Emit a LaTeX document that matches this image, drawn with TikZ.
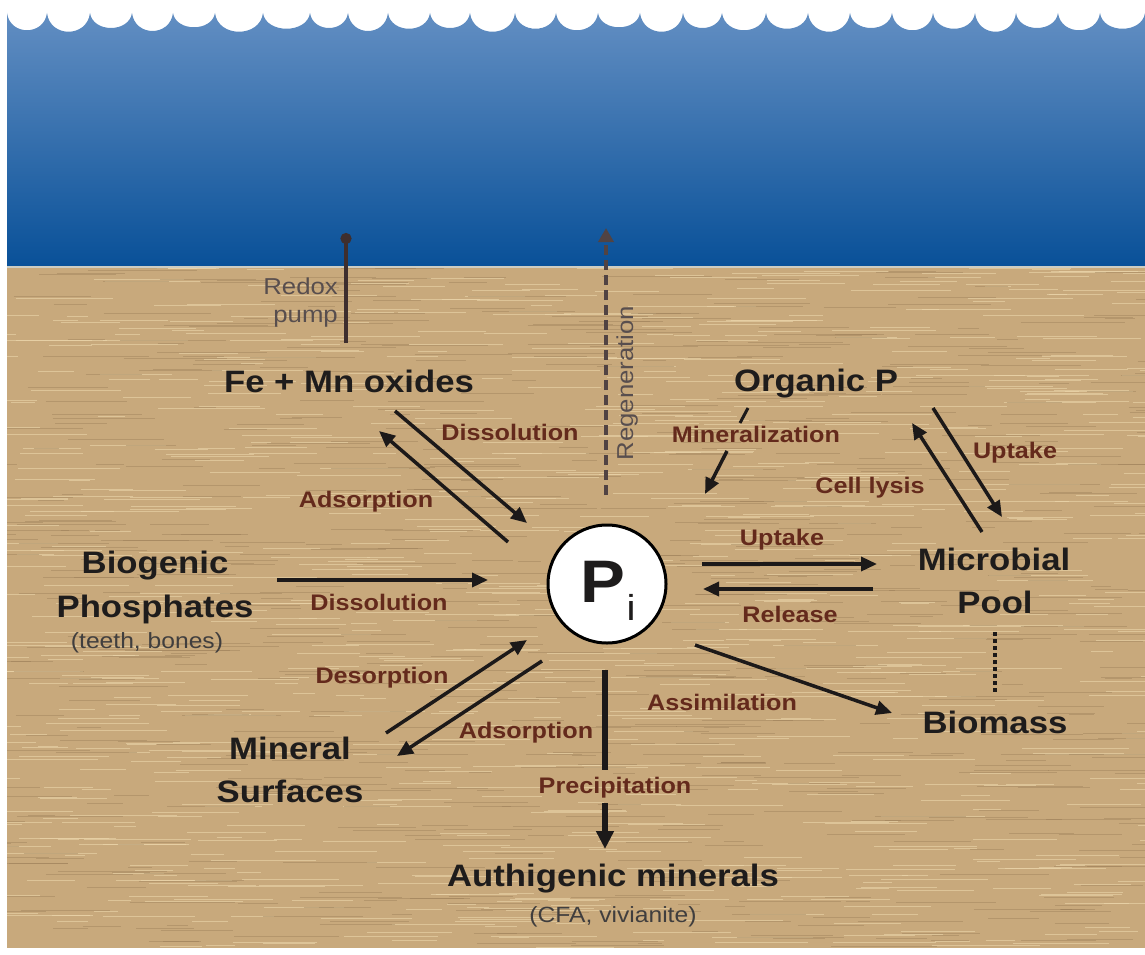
\documentclass[tikz,border=0pt]{standalone}
\usepackage{fontspec}
\setmainfont{Liberation Sans}[FakeStretch=1.12]
\usetikzlibrary{arrows.meta}
\definecolor{sed}{RGB}{200,169,124}
\definecolor{sedlight}{RGB}{236,215,172}
\definecolor{seddark}{RGB}{150,122,84}
\definecolor{watertop}{RGB}{98,142,194}
\definecolor{waterbot}{RGB}{8,80,152}
\definecolor{nodecol}{RGB}{30,28,28}
\definecolor{lblcol}{RGB}{100,42,28}
\definecolor{graycol}{RGB}{88,78,78}
\definecolor{arrowcol}{RGB}{28,25,25}
\definecolor{pumpcol}{RGB}{62,46,46}
\tikzset{
  nodetext/.style={font=\bfseries\fontsize{31}{36}\selectfont, text=nodecol, anchor=base, inner sep=0pt},
  subtext/.style={font=\fontsize{22}{26}\selectfont, text=nodecol!85, anchor=base, inner sep=0pt},
  lbl/.style={font=\bfseries\fontsize{22.5}{27}\selectfont, text=lblcol, anchor=base, inner sep=0pt},
  graytext/.style={font=\fontsize{23}{27}\selectfont, text=graycol, inner sep=0pt},
  flow/.style={draw=arrowcol, line width=3.5pt, -{Triangle[length=16pt,width=14pt]}},
  flowline/.style={draw=arrowcol, line width=3.5pt},
}
\begin{document}
\begin{tikzpicture}[x=1pt,y=-1pt]
\useasboundingbox (0,0) rectangle (1145,955);
\fill[white] (0,0) rectangle (1145,955);
% water with wavy top
\shade[top color=watertop, bottom color=waterbot]
  (7,13) foreach \a/\b/\d in {7/47/36,47/90/38,90/132/33,132/173/37,173/215/32,215/263/38,263/310/34,310/348/33,348/388/37,388/430/34,430/470/33,470/515/38,515/556/34,556/598/36,598/640/32,640/683/38,683/722/33,722/766/36,766/808/34,808/850/38,850/892/33,892/933/36,933/975/34,975/1016/38,1016/1058/33,1058/1100/36,1100/1145/34}
  { .. controls (\a+3,\d) and (\b-3,\d) .. (\b,13) }
  -- (1145,268) -- (7,268) -- cycle;
% sediment
\fill[sed] (7,267) rectangle (1145,948);
\begin{scope}
\clip (7,267) rectangle (1145,948);
\pgfmathsetseed{4242}
\foreach \k in {1,...,900}{
  \pgfmathsetmacro\xa{-40+1200*rnd}
  \pgfmathsetmacro\ya{268+680*rnd}
  \pgfmathsetmacro\ll{20+90*rnd}
  \draw[sedlight, line width=1pt, opacity=0.6] (\xa,\ya) -- ++(\ll,0);
}
\foreach \k in {1,...,700}{
  \pgfmathsetmacro\xa{-40+1200*rnd}
  \pgfmathsetmacro\ya{268+680*rnd}
  \pgfmathsetmacro\ll{20+90*rnd}
  \draw[seddark, line width=0.8pt, opacity=0.4] (\xa,\ya) -- ++(\ll,0);
}
\end{scope}
\draw[line width=1.5pt, color={rgb,255:red,205;green,205;blue,195}] (7,267) -- (1145,267);

% nodes
\node[nodetext] (fe) at (349,392) {Fe + Mn oxides};
\node[nodetext] (org) at (816,391) {Organic P};
\node[nodetext] (bio1) at (155,573) {Biogenic};
\node[nodetext] (bio2) at (155,617) {Phosphates};
\node[subtext] (bio3) at (147,648) {(teeth, bones)};
\node[nodetext] (mic1) at (994,570) {Microbial};
\node[nodetext] (mic2) at (995,613) {Pool};
\node[nodetext] (biom) at (995,733) {Biomass};
\node[nodetext] (min1) at (290,759) {Mineral};
\node[nodetext] (min2) at (290,802) {Surfaces};
\node[nodetext] (auth) at (613,886) {Authigenic minerals};
\node[subtext] (auth2) at (613,922) {(CFA, vivianite)};

\node[circle, draw=black, line width=3pt, fill=white, minimum size=118pt, inner sep=0pt] (pi) at (607,584) {};
\node[font=\bfseries\fontsize{60}{60}\selectfont, text=nodecol, anchor=base, inner sep=0pt] (P) at (603,602) {P};
\node[font=\fontsize{36}{36}\selectfont, text=nodecol, anchor=base, inner sep=0pt] (isub) at (631,620) {i};

% labels
\node[lbl] (l1) at (510,440) {Dissolution};
\node[lbl] (l2) at (366,507) {Adsorption};
\node[lbl] (l3) at (379,610) {Dissolution};
\node[lbl] (l4) at (382,683) {Desorption};
\node[lbl] (l5) at (526,738) {Adsorption};
\node[lbl] (l6) at (615,793) {Precipitation};
\node[lbl] (l7) at (722,710) {Assimilation};
\node[lbl] (l8) at (782,545) {Uptake};
\node[lbl] (l9) at (790,622) {Release};
\node[lbl] (l10) at (870,493) {Cell lysis};
\node[lbl] (l11) at (1015,458) {Uptake};
\node[lbl] (l12) at (756,442) {Mineralization};
\node[graytext, anchor=base east] (rx1) at (338,294) {Redox};
\node[graytext, anchor=base east] (rx2) at (338,322) {pump};
\node[graytext, rotate=90, anchor=base] (regen) at (633,383) {Regeneration};

% connector end points
\coordinate (a1s) at (395,411); \coordinate (a1e) at (527,523);
\coordinate (a2s) at (508,542); \coordinate (a2e) at (379,431);
\coordinate (a3s) at (277,580); \coordinate (a3e) at (488,580);
\coordinate (a4s) at (386,733); \coordinate (a4e) at (527,640);
\coordinate (a5s) at (542,661); \coordinate (a5e) at (397,756);
\coordinate (a6s) at (605,670); \coordinate (a6m) at (605,770);
\coordinate (a6n) at (605,803); \coordinate (a6e) at (605,849);
\coordinate (a7s) at (695,645); \coordinate (a7e) at (892,713);
\coordinate (a8s) at (702,564); \coordinate (a8e) at (877,564);
\coordinate (a9s) at (873,589); \coordinate (a9e) at (703,589);
\coordinate (a10s) at (982,532); \coordinate (a10e) at (912,423);
\coordinate (a11s) at (933,408); \coordinate (a11e) at (1002,517);
\coordinate (a12s) at (748,408); \coordinate (a12m) at (740,423);
\coordinate (a12n) at (727,451); \coordinate (a12e) at (705,494);
\coordinate (d1) at (995,632); \coordinate (d2) at (995,693);
\coordinate (rps) at (346,343); \coordinate (rpe) at (346,233);
\coordinate (rgs) at (606,495); \coordinate (rge) at (606,228);

% connectors
\draw[flow] (a1s) -- (a1e);
\draw[flow] (a2s) -- (a2e);
\draw[flow] (a3s) -- (a3e);
\draw[flow] (a4s) -- (a4e);
\draw[flow] (a5s) -- (a5e);
\draw[flowline, line width=6pt] (a6s) -- (a6m);
\draw[flow, line width=6pt, -{Triangle[length=18pt,width=17pt]}] (a6n) -- (a6e);
\draw[flow] (a7s) -- (a7e);
\draw[flow] (a8s) -- (a8e);
\draw[flow] (a9s) -- (a9e);
\draw[flow] (a10s) -- (a10e);
\draw[flow] (a11s) -- (a11e);
\draw[flowline, line width=3pt] (a12s) -- (a12m);
\draw[flow] (a12n) -- (a12e);
\draw[draw=arrowcol, line width=3.5pt, dash pattern=on 4pt off 3pt] (d1) -- (d2);
\draw[draw=pumpcol, line width=3.5pt, -{Circle[length=11pt]}] (rps) -- (rpe);
\draw[draw=pumpcol!90!white, line width=4pt, dash pattern=on 10pt off 5pt, -{Triangle[length=14pt,width=15pt]}] (rgs) -- (rge);
\end{tikzpicture}
\end{document}
